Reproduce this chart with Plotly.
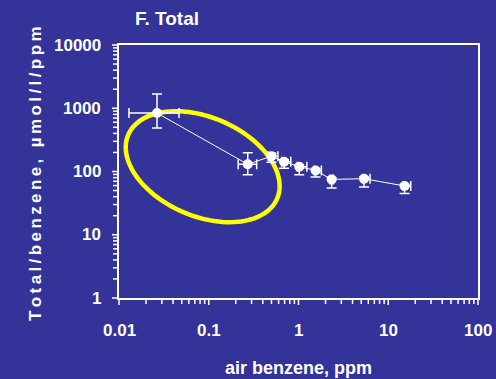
import numpy as np
import plotly.graph_objects as go

# ---- data ----
air_benzene = [0.0265, 0.272, 0.50, 0.69, 1.02, 1.55, 2.34, 5.37, 15.2]
total_per_benzene = [840, 130, 175, 143, 119, 104, 75, 77, 59]
x_err_plus = [0.0202, 0.070, 0.09, 0.13, 0.22, 0.25, 0.10, 0.9, 2.6]
x_err_minus = [0.0136, 0.059, 0.04, 0.04, 0.05, 0.06, 0.10, 0.2, 0.5]
y_err_plus = [840, 68, 20, 10, 8, 8, 5, 5, 4]
y_err_minus = [352, 41, 35, 30, 30, 22, 20, 20, 14]

x_tickvals = [0.01, 0.1, 1, 10, 100]
x_ticktext = ["0.01", "0.1", "1", "10", "100"]
y_tickvals = [1, 10, 100, 1000, 10000]
y_ticktext = ["1", "10", "100", "1000", "10000"]

BG = "#333399"
FG = "#FFFFFF"
FONT = "Liberation Sans"

W, H = 496, 379
L, R, T, B = 119, 18, 45, 81
PW, PH = W - L - R, H - T - B
XR, YR = [-2, 2], [0, 4]


def xpaper(v):
    return (np.log10(v) - XR[0]) / (XR[1] - XR[0])


def ypaper(v):
    return (np.log10(v) - YR[0]) / (YR[1] - YR[0])


fig = go.Figure()

fig.add_trace(go.Scatter(
    x=air_benzene, y=total_per_benzene, mode="lines+markers",
    line=dict(color=FG, width=1),
    marker=dict(color=FG, size=10),
    error_x=dict(type="data", symmetric=False, array=x_err_plus, arrayminus=x_err_minus,
                 color=FG, thickness=1.5, width=5),
    error_y=dict(type="data", symmetric=False, array=y_err_plus, arrayminus=y_err_minus,
                 color=FG, thickness=1.5, width=5),
    showlegend=False, hoverinfo="skip",
))

# yellow highlight ellipse (pixel geometry -> paper coords)
cx, cy, a, b, th = 202.7, 166.7, 81.0, 49.4, np.deg2rad(23.2)
t = np.linspace(0, 2 * np.pi, 120)
px = cx + a * np.cos(t) * np.cos(th) - b * np.sin(t) * np.sin(th)
py = cy + a * np.cos(t) * np.sin(th) + b * np.sin(t) * np.cos(th)
xp = (px - L) / PW
yp = (H - B - py) / PH
path = "M " + " L ".join(f"{u:.4f},{v:.4f}" for u, v in zip(xp, yp)) + " Z"
fig.add_shape(type="path", path=path, xref="paper", yref="paper",
              line=dict(color="#FFFF00", width=4.5), layer="below")

axis_common = dict(
    type="log", showgrid=False, zeroline=False,
    showline=True, linecolor=FG, linewidth=1.5, mirror=True,
    ticks="", showticklabels=False,
)
fig.update_xaxes(range=XR, **axis_common)
fig.update_yaxes(range=YR, **axis_common)

# tick marks (major + 2..9 minor per decade), drawn outside the axes
MAJ, MIN = 7, 6
for i, v in enumerate(x_tickvals):
    vals = [(v, MAJ)]
    if i < len(x_tickvals) - 1:
        vals += [(k * v, MIN) for k in range(2, 10)]
    for tv, ln in vals:
        xx = xpaper(tv)
        fig.add_shape(type="line", xref="paper", yref="paper", x0=xx, x1=xx,
                      y0=0, y1=-ln / PH, line=dict(color=FG, width=1.5), layer="above")
for i, v in enumerate(y_tickvals):
    vals = [(v, MAJ)]
    if i < len(y_tickvals) - 1:
        vals += [(k * v, MIN) for k in range(2, 10)]
    for tv, ln in vals:
        yy = ypaper(tv)
        fig.add_shape(type="line", xref="paper", yref="paper", x0=0, x1=-ln / PW,
                      y0=yy, y1=yy, line=dict(color=FG, width=1.5), layer="above")

tick_font = dict(family=FONT, size=17, color=FG, weight="bold")
for v, s in zip(x_tickvals, x_ticktext):
    fig.add_annotation(text=s, xref="paper", yref="paper", x=xpaper(v), y=-32 / PH,
                       xanchor="center", yanchor="middle", showarrow=False, font=tick_font)
for v, s in zip(y_tickvals, y_ticktext):
    fig.add_annotation(text=s, xref="paper", yref="paper", x=-16 / PW, y=ypaper(v),
                       xanchor="right", yanchor="middle", showarrow=False, font=tick_font)

ythin = "\u2009".join("Total/benzene, µmol/l/ppm")
fig.add_annotation(text=ythin, textangle=-90, xref="paper", yref="paper",
                   x=(36 - L) / PW, y=(H - B - 174) / PH, xanchor="center", yanchor="middle",
                   showarrow=False, font=dict(family=FONT, size=17, color=FG, weight="bold"))
fig.add_annotation(text="air benzene, ppm", xref="paper", yref="paper",
                   x=(298 - L) / PW, y=(H - B - 368) / PH, xanchor="center", yanchor="middle",
                   showarrow=False, font=dict(family=FONT, size=18, color=FG, weight="bold"))
fig.add_annotation(text="F. Total", xref="paper", yref="paper",
                   x=(133 - L) / PW, y=(H - B - 19) / PH, xanchor="left", yanchor="middle",
                   showarrow=False, font=dict(family=FONT, size=19, color=FG, weight="bold"))

fig.update_layout(
    width=W, height=H, margin=dict(l=L, r=R, t=T, b=B, pad=0),
    paper_bgcolor=BG, plot_bgcolor=BG, showlegend=False,
)

fig.write_html("out.html")
